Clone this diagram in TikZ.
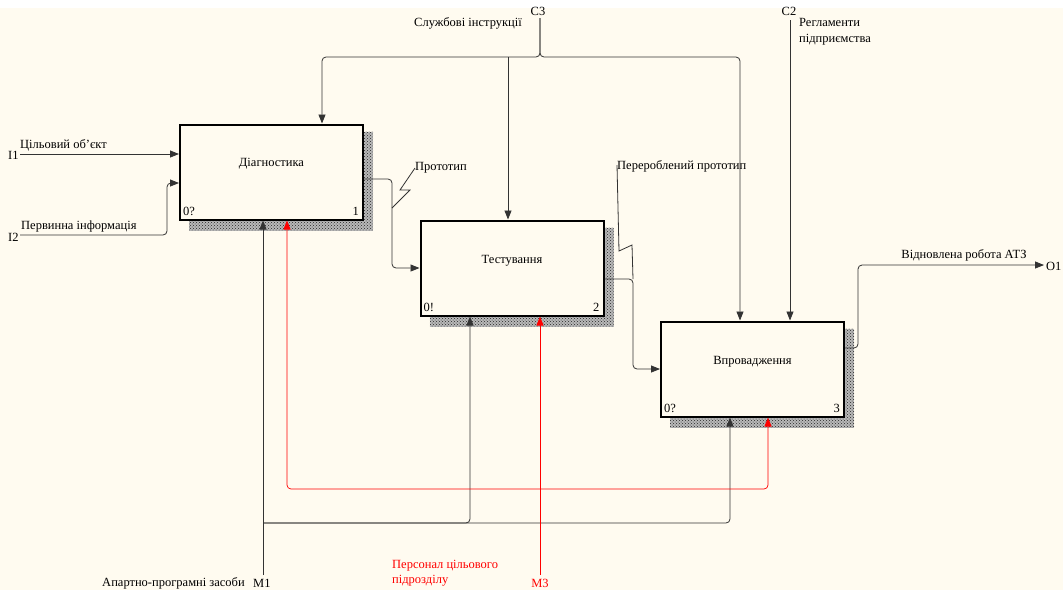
\documentclass[tikz,border=0pt]{standalone}
\usepackage{fontspec}
\setmainfont{Liberation Serif}
\usetikzlibrary{arrows.meta,patterns,calc,backgrounds}
\definecolor{bgc}{RGB}{255,251,240}

\begin{document}
\begin{tikzpicture}[x=1pt,y=-1pt,
  every node/.style={font=\fontsize{12.5}{14}\selectfont, inner sep=0pt},
  func/.style={draw, line width=2pt, fill=bgc, minimum width=183pt, minimum height=95pt},
  hatch/.style={fill=gray!55, postaction={pattern=crosshatch dots, pattern color=black!85}},
  con/.style={draw=black!80, line width=0.8pt, rounded corners=4pt},
  mred/.style={draw=red, line width=0.7pt, rounded corners=4pt},
  tip/.style={-{Triangle[length=9pt,width=7pt]}}
]
  \useasboundingbox (0,0) rectangle (1063,590);

  % function boxes
  \node[func] (diag) at (271.5,172) {};
  \node[func] (test) at (512,268) {};
  \node[func] (impl) at (752.5,369) {};
  \node (diagt) at ([yshift=8pt]diag.center) {Діагностика};
  \node (testt) at ([yshift=7pt]test.center) {Тестування};
  \node (implt) at ([yshift=7pt]impl.center) {Впровадження};
  \node[anchor=base west] (diagc) at ($(diag.south west)+(4,-5)$) {0?};
  \node[anchor=base west] (testc) at ($(test.south west)+(4,-5)$) {0!};
  \node[anchor=base west] (implc) at ($(impl.south west)+(4,-5)$) {0?};
  \node[anchor=base east] (diagn) at ($(diag.south east)+(-5,-5)$) {1};
  \node[anchor=base east] (testn) at ($(test.south east)+(-5,-5)$) {2};
  \node[anchor=base east] (impln) at ($(impl.south east)+(-5,-5)$) {3};

  \begin{scope}[on background layer]
    \fill[bgc] (0,8) rectangle (1063,590);
    \foreach \b in {diag,test,impl}
      \fill[hatch] ($(\b.south west)+(10,10)$) rectangle ($(\b.north east)+(9,8)$);
  \end{scope}

  % inputs
  \coordinate (i1) at (20,154);
  \coordinate (i2) at (20,235);
  \coordinate (i2b) at (167,183);
  \node[anchor=west] (i1l) at (8,155) {I1};
  \node[anchor=west] (i2l) at (8,237) {I2};
  \node[anchor=west] (i1t) at (20,145) {Цільовий об'єкт};
  \node[anchor=west] (i2t) at (21,226) {Первинна інформація};
  \draw[con,tip] (i1) -- (diag.west |- i1);
  \draw[con,tip] (i2) -| (i2b) -- (diag.west |- i2b);

  % controls
  \coordinate (c3) at (540,18);
  \coordinate (c3l) at (322,57);
  \coordinate (c3m) at (508,57);
  \coordinate (c3r) at (740,57);
  \coordinate (c2) at (790,20);
  \node (c3n) at (538,11) {C3};
  \node[anchor=east] (c3t) at (522,23) {Службові інструкції};
  \node (c2n) at (789,11) {C2};
  \node[anchor=north west, align=left, font=\fontsize{12.5}{16}\selectfont] (c2t) at (799,18) {Регламенти\\підприємства};
  \draw[con,tip] (c3) |- (c3l) -- (c3l |- diag.north);
  \draw[con,tip] (c3) |- (c3r) -- (c3r |- impl.north);
  \draw[con,tip] (c3m) -- (c3m |- test.north);
  \draw[con,tip] (c2) -- (c2 |- impl.north);

  % outputs
  \coordinate (p1) at (392,179);
  \coordinate (p2) at (633,279);
  \coordinate (q1) at (858,348);
  \coordinate (o1) at (1044,265);
  \draw[con,tip] (diag.east |- p1) -- (p1) |- (test.west);
  \draw[con,tip] (test.east |- p2) -- (p2) |- (impl.west);
  \draw[con,tip] (impl.east |- q1) -- (q1) |- (o1);
  \draw[con,rounded corners=0pt] (392,208) -- (410,190) -- (400,190) -- (415,168);
  \draw[con,rounded corners=0pt] (p2) -- (632,245) -- (619,251) -- (617,165);
  \node[anchor=west] (p1t) at (415,168) {Прототип};
  \node[anchor=west] (p2t) at (617,166) {Перероблений прототип};
  \node (o1t) at (964,255) {Відновлена робота АТЗ};
  \node[anchor=west] (o1l) at (1046,266) {O1};

  % mechanisms
  \coordinate (m1) at (263,575);
  \coordinate (mb) at (470,523);
  \coordinate (mc) at (730,523);
  \coordinate (m3) at (540,575);
  \coordinate (ra) at (287,489);
  \coordinate (rb) at (768,489);
  \draw[con,tip] (m1) -- (m1 |- diag.south);
  \draw[con,tip] (m1 |- mb) -| (mb |- test.south);
  \draw[con,tip] (m1 |- mc) -| (mc |- impl.south);
  \draw[mred,tip] (m3) -- (m3 |- test.south);
  \draw[mred,tip] (m3 |- ra) -| (ra |- diag.south);
  \draw[mred,tip] (m3 |- rb) -| (rb |- impl.south);
  \node[anchor=east] (m1t) at (245,583) {Апартно-програмні засоби};
  \node[anchor=west] (m1l) at (253,583) {M1};
  \node[anchor=north west, align=left, text=red, font=\fontsize{12.5}{15}\selectfont] (m3t) at (392,560) {Персонал цільового\\підрозділу};
  \node[text=red] (m3l) at (540,583) {M3};
\end{tikzpicture}
\end{document}
